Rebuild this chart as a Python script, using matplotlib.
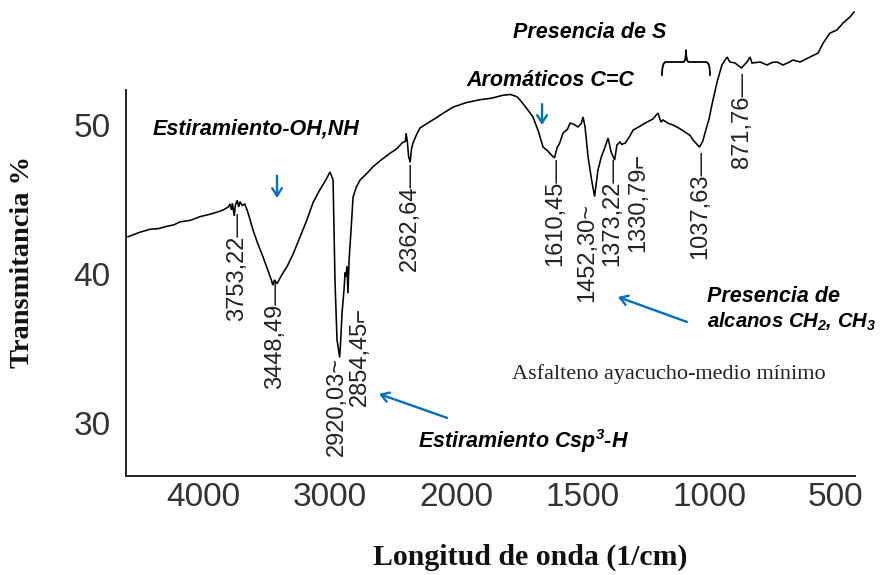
import numpy as np
import matplotlib
matplotlib.use("Agg")
import matplotlib.pyplot as plt
from matplotlib.path import Path
from matplotlib.patches import PathPatch

plt.rcParams["mathtext.fontset"] = "custom"
plt.rcParams["mathtext.rm"] = "Liberation Sans:bold:italic"
plt.rcParams["mathtext.it"] = "Liberation Sans:bold:italic"
plt.rcParams["mathtext.bf"] = "Liberation Sans:bold:italic"

# FTIR spectrum: wavenumber (1/cm) and transmittance (%)
wavenumber = [
    4593, 4500, 4419, 4350, 4285, 4230, 4182, 4100, 4024, 3950, 3889, 3840,
    3800, 3787, 3775, 3768, 3753.22, 3745, 3730, 3718, 3708, 3690, 3670, 3652,
    3630, 3605, 3570, 3526, 3490, 3460, 3448.49, 3435, 3415, 3380, 3336, 3290,
    3233, 3180, 3130, 3080, 3030, 2996, 2985, 2972, 2962, 2957, 2941, 2920.03,
    2912, 2901, 2885, 2877, 2870, 2862, 2854.45, 2845, 2830, 2814, 2790, 2759,
    2700, 2656, 2600, 2522, 2470, 2419, 2400, 2395, 2385, 2375, 2362.64, 2352,
    2340, 2310, 2285, 2230, 2182, 2100, 2024, 1960, 1905, 1860, 1814, 1785,
    1759, 1747, 1720, 1696, 1675, 1656, 1640, 1621, 1610.45, 1601, 1590, 1577,
    1560, 1549, 1535, 1518, 1505, 1498, 1490, 1478, 1465, 1452.30, 1439, 1425,
    1411, 1399, 1387, 1373.22, 1364, 1352, 1345, 1330.79, 1315, 1300, 1275,
    1245, 1222, 1202, 1190, 1182, 1160, 1142, 1120, 1095, 1075, 1063, 1037.63,
    1025, 1016, 1000, 988, 968, 949, 929, 917, 897, 871.76, 850, 838, 830,
    798, 771, 750, 731, 708, 685, 668, 640, 620, 601, 569, 549, 522, 494, 470,
    443, 427,
]
transmittance = [
    42.5, 42.8, 43.0, 43.05, 43.2, 43.3, 43.5, 43.6, 43.85, 44.0, 44.15, 44.3,
    44.5, 44.7, 44.3, 44.75, 43.9, 44.6, 44.95, 44.5, 44.85, 44.6, 44.7, 44.3,
    43.7, 42.95, 42.1, 41.15, 40.3, 39.6, 39.25, 39.6, 39.35, 39.9, 40.5, 41.3,
    42.5, 43.6, 44.8, 45.6, 46.3, 46.85, 46.6, 46.3, 42.0, 39.6, 35.6, 34.4,
    35.5, 37.4, 39.0, 40.1, 39.8, 40.5, 38.7, 41.0, 42.95, 45.15, 45.8, 46.3,
    46.8, 47.2, 47.6, 48.1, 48.4, 48.85, 48.9, 49.45, 48.9, 47.9, 47.5, 48.4,
    48.8, 49.4, 49.8, 50.1, 50.35, 50.8, 51.2, 51.5, 51.7, 51.8, 52.0, 52.05,
    51.9, 51.68, 51.1, 50.54, 49.6, 48.52, 48.3, 47.95, 47.8, 48.46, 48.8, 49.46,
    49.7, 50.13, 50.05, 49.87, 50.1, 50.54, 49.87, 47.85, 46.4, 45.2, 46.98, 47.9,
    48.52, 49.13, 48.19, 47.65, 48.66, 48.86, 48.7, 48.79, 49.2, 49.66, 49.9,
    50.2, 50.4, 50.8, 50.2, 50.34, 50.1, 50.0, 49.8, 49.53, 49.3, 48.99, 48.52,
    48.9, 49.46, 50.4, 51.4, 52.9, 54.03, 54.56, 54.23, 54.16, 53.83, 54.23, 54.56,
    54.16, 54.23, 54.03, 54.2, 54.23, 54.03, 54.2, 54.36, 54.23, 54.4, 54.56,
    54.83, 55.5, 56.17, 56.38, 56.85, 57.25, 57.58,
]

# Labelled absorption bands
peak_labels = ["3753,22", "3448,49", "2920,03", "2854,45", "2362,64", "1610,45",
               "1452,30", "1373,22", "1330,79", "1037,63", "871,76"]
peak_leaders = ["\u2014", "\u2014", "~", "\u2310", "\u2014", "\u2014",
                "~", "\u2014", "\u2310", "\u2014", "\u2014"]
label_x = [3731, 3431, 2941, 2759, 2364, 1609, 1482, 1383, 1281, 1035, 870]
label_top = [44.16, 39.6, 34.43, 37.8, 47.5, 47.85, 44.77, 47.85, 48.12, 48.3, 53.56]

x_ticks = [4000, 3000, 2000, 1500, 1000, 500]
y_ticks = [30, 40, 50]


def to_axis(w):
    # wavenumber -> axis coordinate: 1000 per unit above 2000, 500 per unit below
    w = np.asarray(w, dtype=float)
    return np.where(w >= 2000, (w - 4000) / 1000.0, -2 - (2000 - w) / 500.0)


def from_axis(v):
    v = np.asarray(v, dtype=float)
    return np.where(v >= -2, 4000 + 1000.0 * v, 2000 + 500.0 * (v + 2))


fig = plt.figure(figsize=(8.8, 5.75), dpi=100)
ax = fig.add_axes([126 / 880, 1 - 476 / 575, 729 / 880, 386 / 575])
ax.set_xscale("function", functions=(to_axis, from_axis))
ax.set_xlim(4609, 423)
ax.set_ylim(26.44, 52.35)

ax.plot(wavenumber, transmittance, color="black", lw=1.15, clip_on=False,
        solid_joinstyle="miter")

for side in ("top", "right"):
    ax.spines[side].set_visible(False)
for side in ("left", "bottom"):
    ax.spines[side].set_linewidth(1.4)
    ax.spines[side].set_color("#222222")

ax.set_xticks(x_ticks)
ax.set_xticklabels([str(v) for v in x_ticks])
ax.set_yticks(y_ticks)
ax.set_yticklabels([str(v) for v in y_ticks])
ax.tick_params(axis="both", length=0, labelsize=24, labelcolor="#333333")
ax.tick_params(axis="x", pad=4)
ax.tick_params(axis="y", pad=11)
for lab in ax.get_xticklabels() + ax.get_yticklabels():
    lab.set_family("Liberation Sans")

# band labels, read upward with a leader at the band
for txt, lead, lx, ly in zip(peak_labels, peak_leaders, label_x, label_top):
    ax.text(lx, ly, txt + lead, rotation=90, rotation_mode="anchor",
            ha="right", va="center", fontsize=17, color="#222222",
            family=["Liberation Sans", "DejaVu Sans"], clip_on=False)

blue = "#0070C0"
note = dict(fontweight="bold", fontstyle="italic",
            family="Liberation Sans", color="black")
arrow = dict(arrowstyle="->,head_length=0.55,head_width=0.35", color=blue,
             lw=1.7, shrinkA=0, shrinkB=0)

ax.text(4395, 49.73, "Estiramiento-OH,NH", ha="left", va="center",
        fontsize=15.5, **note)
ax.annotate("", xy=(3415, 45.1), xytext=(3415, 46.6), arrowprops=arrow,
            annotation_clip=False)

ax.text(1628, 53.02, "Arom\u00e1ticos C=C", ha="center", va="center",
        fontsize=15.5, **note)
ax.annotate("", xy=(1660, 50.0), xytext=(1660, 51.4), arrowprops=arrow,
            annotation_clip=False)

ax.text(1470, 56.24, "Presencia de S", ha="center", va="center",
        fontsize=15.5, **note)

ax.text(1008, 38.52, "Presencia de", ha="left", va="center",
        fontsize=15.5, **note)
ax.text(1008, 36.78, "alcanos CH$_2$, CH$_3$", ha="left", va="center",
        fontsize=14.6, **note)
ax.annotate("", xy=(1360, 38.46), xytext=(1087, 36.78), arrowprops=arrow,
            annotation_clip=False)

ax.text(2300, 28.79, "Estiramiento Csp$^3$-H", ha="left", va="center",
        fontsize=15.5, **note)
ax.annotate("", xy=(2609, 31.95), xytext=(2071, 30.34), arrowprops=arrow,
            annotation_clip=False)

ax.text(1158, 33.29, "Asfalteno ayacucho-medio m\u00ednimo", ha="center",
        va="center", fontsize=16, family="Liberation Serif", color="#222222")

# curly brace over the sulfur band region
y_end, y_mid, y_tip = 53.3, 54.23, 55.05
brace_verts = [
    (1186, y_end), (1186, y_mid), (1170, y_mid),
    (1102, y_mid),
    (1091, y_mid), (1091, y_tip),
    (1091, y_mid), (1080, y_mid),
    (1012, y_mid),
    (996, y_mid), (996, y_end),
]
brace_codes = [Path.MOVETO, Path.CURVE3, Path.CURVE3, Path.LINETO,
               Path.CURVE3, Path.CURVE3, Path.CURVE3, Path.CURVE3,
               Path.LINETO, Path.CURVE3, Path.CURVE3]
ax.add_patch(PathPatch(Path(brace_verts, brace_codes), fill=False,
                       lw=1.3, color="black", clip_on=False))

fig.text(23 / 880, 1 - 262 / 575, "Transmitancia %", rotation=90,
         ha="center", va="center", fontsize=20.5, fontweight="bold",
         family="Liberation Serif", color="#111111")
fig.text(530 / 880, 1 - 557 / 575, "Longitud de onda (1/cm)", ha="center",
         va="center", fontsize=21.5, fontweight="bold",
         family="Liberation Serif", color="#111111")

fig.savefig("out.png", dpi=100)
